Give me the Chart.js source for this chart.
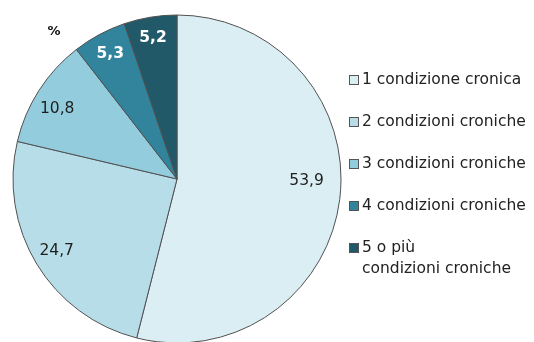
<!DOCTYPE html>
<html>
<head>
<meta charset="utf-8">
<script src="https://cdn.jsdelivr.net/npm/chart.js@4/dist/chart.umd.min.js"></script>
<style>
  html, body { margin: 0; padding: 0; background: #fff; overflow: hidden; }
  #wrap { width: 534px; height: 342px; position: relative; }
</style>
</head>
<body>
<div id="wrap"><canvas id="chart" width="534" height="342"></canvas></div>
<script>
const categories = [
  "1 condizione cronica",
  "2 condizioni croniche",
  "3 condizioni croniche",
  "4 condizioni croniche",
  "5 o più\ncondizioni croniche"
]
const shares = [53.9, 24.7, 10.8, 5.3, 5.2]
const unitLabel = "%"

const COLORS = ["#dbeef4", "#b7dee8", "#93cddd", "#31849b", "#215968"]
const FONT = "DejaVu Sans, Verdana, sans-serif"

// value labels inside the slices: "at" picks the angle within the slice, "radius" the distance
const sliceLabels = {
  id: "sliceLabels",
  afterDatasetsDraw(chart, args, opts) {
    const { ctx } = chart
    const meta = chart.getDatasetMeta(0)
    const values = chart.data.datasets[0].data
    ctx.save()
    ctx.textAlign = "center"
    ctx.textBaseline = "middle"
    meta.data.forEach((arc, i) => {
      const { x, y, startAngle, endAngle, outerRadius } = arc.getProps(["x", "y", "startAngle", "endAngle", "outerRadius"], true)
      const a = startAngle + (endAngle - startAngle) * opts.at[i]
      const r = outerRadius * opts.radius[i]
      const dark = i >= 3
      ctx.font = (dark ? "bold " : "") + "15.5px " + FONT
      ctx.fillStyle = dark ? "#ffffff" : "#1e1e1e"
      ctx.fillText(values[i].toFixed(1).replace(".", ","), x + Math.cos(a) * r, y + Math.sin(a) * r + 1)
    })
    ctx.font = "bold 13px " + FONT
    ctx.fillStyle = "#111"
    ctx.fillText(unitLabel, 54, 32)
    ctx.restore()
  }
}

// legend on the right, boxes plus (possibly two-line) text
const sideLegend = {
  id: "sideLegend",
  afterDraw(chart, args, opts) {
    const { ctx } = chart
    ctx.save()
    ctx.textBaseline = "middle"
    ctx.textAlign = "left"
    ctx.font = "15.5px " + FONT
    chart.data.labels.forEach((label, i) => {
      const y = opts.top + i * opts.step
      ctx.fillStyle = COLORS[i]
      ctx.fillRect(opts.left + 0.5, y - 4.5, 9, 9)
      ctx.strokeStyle = "#555"
      ctx.lineWidth = 1
      ctx.strokeRect(opts.left + 0.5, y - 4.5, 9, 9)
      ctx.fillStyle = "#222"
      label.split("\n").forEach((line, j) => {
        ctx.fillText(line, opts.left + 13, y + j * opts.lineHeight)
      })
    })
    ctx.restore()
  }
}

new Chart(document.getElementById("chart"), {
  type: "pie",
  data: {
    labels: categories,
    datasets: [{
      data: shares,
      backgroundColor: COLORS,
      borderColor: "#505050",
      borderWidth: 1,
      hoverOffset: 0,
      clip: false
    }]
  },
  options: {
    responsive: false,
    animation: false,
    radius: 164,
    layout: { padding: { left: 13, right: 193, top: 16, bottom: 0 } },
    plugins: {
      legend: { display: false },
      tooltip: { enabled: false },
      sliceLabels: { at: [0.466, 0.51, 0.45, 0.52, 0.49], radius: [0.79, 0.85, 0.85, 0.87, 0.88] },
      sideLegend: { left: 349, top: 80, step: 42, lineHeight: 21 }
    }
  },
  plugins: [sliceLabels, sideLegend]
})
</script>
</body>
</html>
